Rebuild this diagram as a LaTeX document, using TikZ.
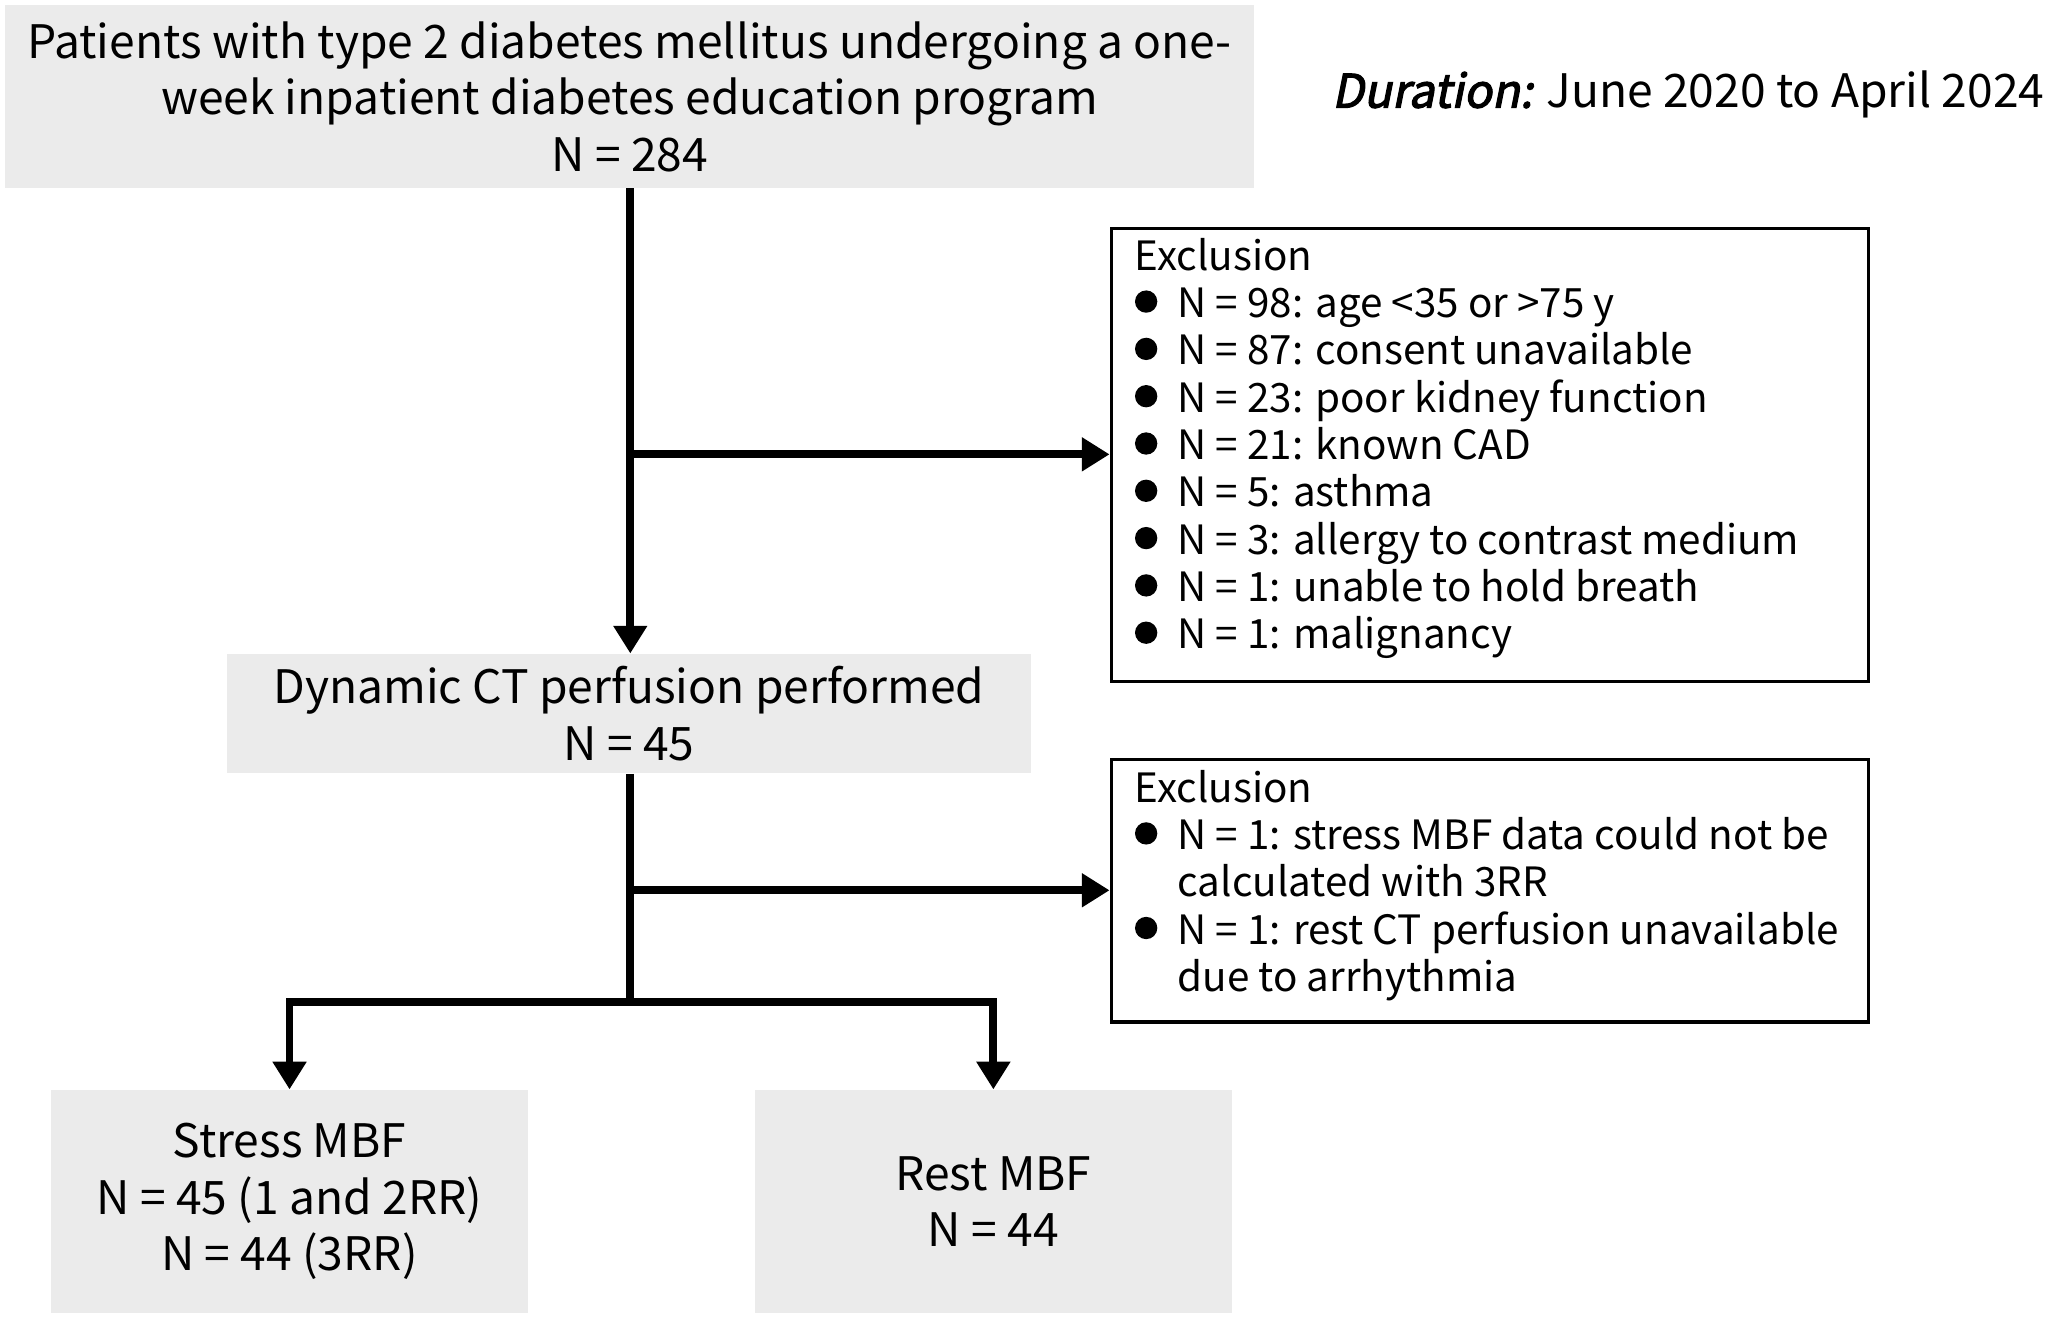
\documentclass[tikz,border=0pt]{standalone}
\usepackage{fontspec}
\setmainfont{Noto Sans CJK JP}
\newfontfamily\durfont[FakeSlant=0.2,FakeBold=2.5]{Noto Sans CJK JP}
\usetikzlibrary{arrows.meta,positioning}
\tikzset{
  graybox/.style={fill=black!8,inner sep=0pt,align=center,
    font=\fontsize{20}{24.5}\selectfont},
  exclbox/.style={draw,line width=1.4pt,anchor=north west,inner sep=0pt,
    font=\fontsize{17.5}{20.5}\selectfont},
  excltext/.style={anchor=north west,align=left,inner sep=0pt,
    font=\fontsize{17.5}{20.5}\selectfont},
  flow/.style={line width=3.4pt},
  flowarrow/.style={flow,-{Triangle[length=12pt,width=14pt]}}
}
\newcommand{\bul}{\makebox[0.65cm][l]{\raisebox{0.12em}{\tikz\fill (0,0) circle (0.17cm);}}}
\begin{document}
\begin{tikzpicture}
  \useasboundingbox (0,0) rectangle (31.3,-20.06);
  % boxes
  \node (top) [graybox,minimum width=19.02cm,minimum height=2.78cm] at (9.59,-1.47)
    {Patients with type 2 diabetes mellitus undergoing a one-\\week inpatient diabetes education program\\N = 284};
  \node (dur) [anchor=east,font=\fontsize{20}{24}\selectfont] at (31.26,-1.44)
    {{\durfont Duration:} June 2020 to April 2024};
  \node (ctp) [graybox,minimum width=12.24cm,minimum height=1.82cm] at (9.58,-10.87)
    {Dynamic CT perfusion performed\\N = 45};
  \node (stress) [graybox,minimum width=7.26cm,minimum height=3.4cm] at (4.41,-18.3)
    {Stress MBF\\N = 45 (1 and 2RR)\\N = 44 (3RR)};
  \node (rest) [graybox,minimum width=7.26cm,minimum height=3.4cm] at (15.13,-18.3)
    {Rest MBF\\N = 44};
  \node (ex1) [exclbox,minimum width=11.54cm,minimum height=6.9cm] at (16.9,-3.46) {};
  \node (ex1txt) [exltext/.try,excltext] at (17.28,-3.62)
    {Exclusion\\
     \bul N = 98: age <35 or >75 y\\
     \bul N = 87: consent unavailable\\
     \bul N = 23: poor kidney function\\
     \bul N = 21: known CAD\\
     \bul N = 5: asthma\\
     \bul N = 3: allergy to contrast medium\\
     \bul N = 1: unable to hold breath\\
     \bul N = 1: malignancy};
  \node (ex2) [exclbox,minimum width=11.54cm,minimum height=4.0cm] at (16.9,-11.54) {};
  \node (ex2txt) [excltext] at (17.28,-11.72)
    {Exclusion\\
     \bul N = 1: stress MBF data could not be\\
     \hspace*{0.65cm}calculated with 3RR\\
     \bul N = 1: rest CT perfusion unavailable\\
     \hspace*{0.65cm}due to arrhythmia};
  % connectors
  \coordinate (b1) at (9.6,-6.92);
  \coordinate (b2) at (9.6,-13.56);
  \coordinate (fork) at (9.6,-15.26);
  \draw [flowarrow] (top.south -| b1) -- (ctp.north -| b1);
  \draw [flowarrow] (b1) -- (b1 -| ex1.west);
  \draw [flow] (ctp.south -| b2) -- (fork);
  \draw [flowarrow] (b2) -- (b2 -| ex2.west);
  \draw [flowarrow] (fork) -| (stress.north);
  \draw [flowarrow] (fork) -| (rest.north);
\end{tikzpicture}
\end{document}
